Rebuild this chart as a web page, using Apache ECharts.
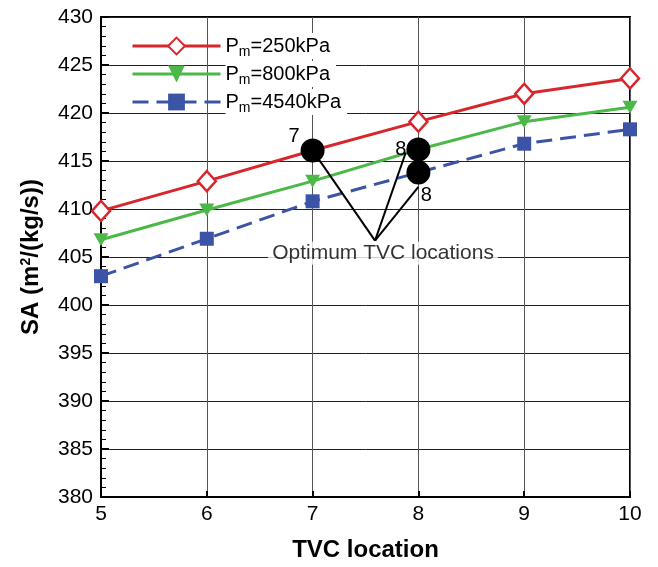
<!DOCTYPE html>
<html>
<head>
<meta charset="utf-8">
<script src="https://cdn.jsdelivr.net/npm/echarts@6/dist/echarts.min.js"></script>
<style>
  html, body { margin: 0; padding: 0; background: #fff; }
  #chart { width: 658px; height: 567px; }
</style>
</head>
<body>
<div id="chart"></div>
<script>
var tvcLocation = [5, 6, 7, 8, 9, 10]
var sa250 = [409.8, 412.9, 416.1, 419.1, 422.0, 423.6]
var sa800 = [406.8, 409.9, 412.9, 416.2, 419.1, 420.6]
var sa4540 = [403.0, 406.9, 410.8, 413.8, 416.8, 418.3]

// optimum points and their tags
var optX = [7, 8, 8]
var optY = [416.1, 416.2, 413.8]
var optTag = ['7', '8', '8']

// pointer lines: apex -> end
var apex = [7.59, 406.7]
var pointerEnds = [[7, 416.1], [7.88, 415.86], [8.0, 412.3]]

function pairs(xs, ys) {
    var out = []
    for (var i = 0; i < xs.length; i++) out.push([xs[i], ys[i]])
    return out
}

var font = 'Liberation Sans, Arial, sans-serif'

var tagPos = [
    { position: 'left', offset: [4, -14] },
    { position: 'left', offset: [5, 0] },
    { position: 'bottom', offset: [8, -4] }
]
var optData = []
for (var i = 0; i < optX.length; i++) {
    optData.push({
        value: [optX[i], optY[i]],
        label: { show: true, formatter: optTag[i], position: tagPos[i].position, offset: tagPos[i].offset }
    })
}
var pointerData = []
for (var j = 0; j < pointerEnds.length; j++) {
    pointerData.push({ coords: [apex, pointerEnds[j]] })
}

var option = {
    animation: false,
    backgroundColor: '#fff',
    grid: {
        left: 101, right: 28, top: 17, bottom: 69,
        show: true, borderColor: '#000', borderWidth: 2
    },
    legend: {
        left: 131, top: 33, padding: 0,
        orient: 'vertical',
        itemWidth: 88, itemHeight: 21, itemGap: 2,
        data: ['250', '800', '4540'],
        lineStyle: { width: 3 },
        formatter: function (name) {
            return 'P{sub|m}=' + name + 'kPa'
        },
        textStyle: {
            fontSize: 20, lineHeight: 26, fontFamily: font, color: '#000',
            backgroundColor: '#fff', padding: [0, 6, 0, 0],
            rich: {
                sub: { fontSize: 14, lineHeight: 14, verticalAlign: 'bottom', fontFamily: font, color: '#000', backgroundColor: '#fff' }
            }
        }
    },
    xAxis: {
        type: 'value', min: 5, max: 10, interval: 1,
        name: 'TVC location', nameLocation: 'middle', nameGap: 41,
        nameTextStyle: { fontSize: 24, fontWeight: 'bold', fontFamily: font, color: '#000' },
        axisLine: { lineStyle: { color: '#000', width: 2 } },
        axisTick: { inside: true, length: 6, lineStyle: { color: '#000', width: 2 } },
        axisLabel: { fontSize: 21, fontFamily: font, color: '#000', margin: 7 },
        splitLine: { show: true, lineStyle: { color: '#555', width: 1 } }
    },
    yAxis: {
        type: 'value', min: 380, max: 430, interval: 5,
        name: 'SA (m{sup|2}/(kg/s))', nameLocation: 'middle', nameGap: 58,
        nameTextStyle: {
            fontSize: 24, fontWeight: 'bold', fontFamily: font, color: '#000',
            rich: {
                sup: { fontSize: 14, fontWeight: 'bold', fontFamily: font, color: '#000', verticalAlign: 'top', padding: [0, 0, 10, 0] }
            }
        },
        axisLine: { lineStyle: { color: '#000', width: 2 } },
        axisTick: { inside: true, length: 8, lineStyle: { color: '#000', width: 2 } },
        minorTick: { show: true, splitNumber: 5, length: 5, lineStyle: { color: '#000', width: 1 } },
        axisLabel: { fontSize: 21, fontFamily: font, color: '#000', margin: 8 },
        splitLine: { show: true, lineStyle: { color: '#222', width: 1 } }
    },
    series: [
        {
            name: '4540', type: 'line', data: pairs(tvcLocation, sa4540),
            symbol: 'rect', symbolSize: 14,
            lineStyle: { color: '#3c54a6', width: 3, type: [16, 8] },
            itemStyle: { color: '#3c54a6' }
        },
        {
            name: '800', type: 'line', data: pairs(tvcLocation, sa800),
            symbol: 'triangle', symbolRotate: 180, symbolSize: [15, 13],
            lineStyle: { color: '#4cb848', width: 3 },
            itemStyle: { color: '#4cb848' }
        },
        {
            name: '250', type: 'line', data: pairs(tvcLocation, sa250),
            symbol: 'diamond', symbolSize: [18, 20],
            lineStyle: { color: '#d8262d', width: 3 },
            itemStyle: { color: '#fff', borderColor: '#d8262d', borderWidth: 2.5 }
        },
        {
            type: 'lines', coordinateSystem: 'cartesian2d', z: 5,
            polyline: false, silent: true,
            lineStyle: { color: '#000', width: 2, opacity: 1 },
            data: pointerData
        },
        {
            type: 'scatter', z: 6, symbol: 'circle', symbolSize: 24,
            itemStyle: { color: '#000', opacity: 1 },
            label: { fontSize: 20, fontFamily: font, color: '#000', distance: 5 },
            data: optData
        },
        {
            type: 'scatter', z: 7, symbolSize: 0,
            data: [apex],
            label: {
                show: true, position: 'bottom', distance: 1, offset: [8, 0],
                formatter: 'Optimum TVC locations',
                fontSize: 21, fontFamily: font, color: '#000',
                backgroundColor: '#fff', padding: [1, 4, 1, 4]
            }
        }
    ]
}
var myChart = echarts.init(document.getElementById('chart'))
myChart.setOption(option)
</script>
</body>
</html>
